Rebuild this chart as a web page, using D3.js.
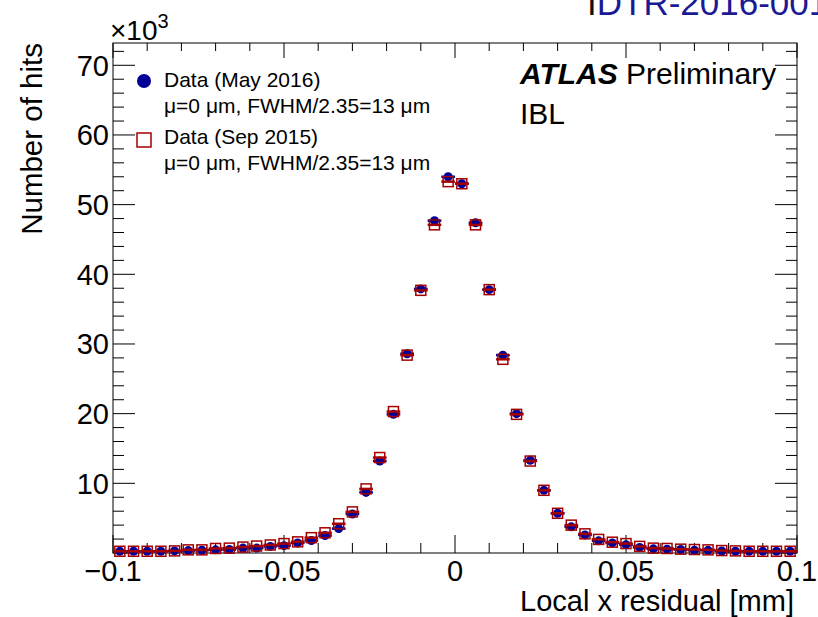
<!DOCTYPE html>
<html>
<head>
<meta charset="utf-8">
<script src="https://cdn.jsdelivr.net/npm/d3@7"></script>
<style>
  body { margin: 0; background: #fff; }
  svg { display: block; font-family: "Liberation Sans", Arial, sans-serif; }
</style>
</head>
<body>
<svg id="chart" width="818" height="617"></svg>
<script>
// bins of the residual histogram (mm)
const binEdges = [-0.1, 0.1];
const binWidth = 0.004;

// hits per bin, in units of 10^3
const may2016 = [
  0.25, 0.25, 0.25, 0.25, 0.3, 0.35, 0.4, 0.45, 0.5, 0.7,
  0.7, 0.95, 1.05, 1.45, 1.8, 2.5, 3.5, 5.6, 8.7, 13.2,
  19.9, 28.6, 37.9, 47.7, 54.0, 53.0, 47.4, 37.8, 28.4, 20.0,
  13.3, 9.0, 5.7, 3.75, 2.6, 1.75, 1.45, 1.2, 0.8, 0.6,
  0.55, 0.5, 0.4, 0.38, 0.28, 0.25, 0.25, 0.25, 0.25, 0.25,
];
const sep2015 = [
  0.25, 0.25, 0.25, 0.25, 0.3, 0.45, 0.45, 0.65, 0.7, 0.85,
  1.0, 1.15, 1.35, 1.6, 2.2, 2.9, 4.2, 5.9, 9.2, 13.7,
  20.3, 28.4, 37.7, 47.1, 53.3, 53.0, 47.1, 37.8, 27.8, 19.9,
  13.2, 9.0, 5.7, 4.0, 2.75, 1.95, 1.55, 1.35, 0.95, 0.7,
  0.65, 0.55, 0.5, 0.45, 0.35, 0.3, 0.25, 0.25, 0.25, 0.25,
];

const xTickLabels = [-0.1, -0.05, 0, 0.05, 0.1];
const yTickLabels = [10, 20, 30, 40, 50, 60, 70];
const legendLines = [
  'Data (May 2016)',
  'μ=0 μm, FWHM/2.35=13 μm',
  'Data (Sep 2015)',
  'μ=0 μm, FWHM/2.35=13 μm',
];

const blue = '#000099';
const red = '#a50000';

const svg = d3.select('#chart');
const margin = { top: 43, right: 21, bottom: 64, left: 113 };
const width = 818;
const height = 617;

const x = d3.scaleLinear().domain(binEdges).range([margin.left, width - margin.right]);
const y = d3.scaleLinear().domain([0, 73.2]).range([height - margin.bottom, margin.top]);

const centers = may2016.map((_, i) => binEdges[0] + binWidth * (i + 0.5));

// frame
svg.append('rect')
  .attr('x', x(binEdges[0])).attr('y', y(73.2))
  .attr('width', x(binEdges[1]) - x(binEdges[0]))
  .attr('height', y(0) - y(73.2))
  .attr('fill', 'none').attr('stroke', '#000').attr('stroke-width', 1);

// ticks
const xMinor = d3.range(-10, 11).map((k) => k / 100);
const yMinor = d3.range(0, 74, 2);
const tk = svg.append('g').attr('stroke', '#000').attr('stroke-width', 1);
xMinor.forEach((v) => {
  const major = Math.abs(Math.round(v * 1000) % 50) === 0;
  const len = major ? 18 : 10;
  tk.append('line').attr('x1', x(v)).attr('x2', x(v))
    .attr('y1', y(0)).attr('y2', y(0) - len);
  tk.append('line').attr('x1', x(v)).attr('x2', x(v))
    .attr('y1', y(73.2)).attr('y2', y(73.2) + (major ? 15 : 8));
});
yMinor.forEach((v) => {
  const major = v % 10 === 0;
  const len = major ? 22 : 11;
  tk.append('line').attr('x1', x(-0.1)).attr('x2', x(-0.1) + len)
    .attr('y1', y(v)).attr('y2', y(v));
  tk.append('line').attr('x1', x(0.1)).attr('x2', x(0.1) - len)
    .attr('y1', y(v)).attr('y2', y(v));
});

// tick labels
svg.append('g').selectAll('text').data(xTickLabels).join('text')
  .attr('x', (d) => x(d)).attr('y', 581)
  .attr('text-anchor', 'middle').attr('font-size', 29)
  .text((d) => (d < 0 ? '\u2212' + String(-d) : String(d)));
svg.append('g').selectAll('text').data(yTickLabels).join('text')
  .attr('x', 109).attr('y', (d) => y(d)).attr('dy', '0.36em')
  .attr('text-anchor', 'end').attr('font-size', 29)
  .text((d) => d);

// axis titles
svg.append('text').attr('x', 794).attr('y', 611)
  .attr('text-anchor', 'end').attr('font-size', 29)
  .text('Local x residual [mm]');
svg.append('text')
  .attr('transform', `translate(42,${margin.top}) rotate(-90)`)
  .attr('text-anchor', 'end').attr('font-size', 29.5)
  .text('Number of hits');
const exp = svg.append('text').attr('x', 110).attr('y', 40).attr('font-size', 28);
exp.append('tspan').text('\u00d710');
exp.append('tspan').attr('font-size', 20).attr('dy', -12).text('3');

// data: blue first, red open squares on top
const drawSeries = (vals, color, marker) => {
  const g = svg.append('g');
  g.selectAll('line').data(vals).join('line')
    .attr('x1', (d, i) => x(centers[i] - binWidth / 2))
    .attr('x2', (d, i) => x(centers[i] + binWidth / 2))
    .attr('y1', (d) => y(d)).attr('y2', (d) => y(d))
    .attr('stroke', color).attr('stroke-width', 2.5);
  if (marker === 'circle') {
    g.selectAll('circle').data(vals).join('circle')
      .attr('cx', (d, i) => x(centers[i])).attr('cy', (d) => y(d))
      .attr('r', 4.5).attr('fill', color);
  } else {
    g.selectAll('rect').data(vals).join('rect')
      .attr('x', (d, i) => x(centers[i]) - 5).attr('y', (d) => y(d) - 5)
      .attr('width', 10).attr('height', 10)
      .attr('fill', 'none').attr('stroke', color).attr('stroke-width', 1.5);
  }
};
drawSeries(may2016, blue, 'circle');
drawSeries(sep2015, red, 'square');

// legend
svg.append('circle').attr('cx', 144).attr('cy', 81).attr('r', 7).attr('fill', blue);
svg.append('rect').attr('x', 137).attr('y', 133).attr('width', 14).attr('height', 14)
  .attr('fill', 'none').attr('stroke', red).attr('stroke-width', 1.5);
svg.append('g').selectAll('text').data(legendLines).join('text')
  .attr('x', 164).attr('y', (d, i) => [87, 113, 144, 170][i])
  .attr('font-size', 21)
  .text((d) => d);

// labels
const atlas = svg.append('text').attr('x', 520).attr('y', 84).attr('font-size', 30);
atlas.append('tspan').attr('font-weight', 'bold').attr('font-style', 'italic').text('ATLAS');
atlas.append('tspan').text(' Preliminary');
svg.append('text').attr('x', 520).attr('y', 124).attr('font-size', 30).text('IBL');

// reference label, cut by the top/right page edge as in the original
const ref = svg.append('text').attr('x', 587).attr('y', 15).attr('font-size', 35).attr('fill', '#1a1a96');
ref.append('tspan').attr('fill', '#111').text('I');
ref.append('tspan').text('DTR-2016-001');
</script>
</body>
</html>
